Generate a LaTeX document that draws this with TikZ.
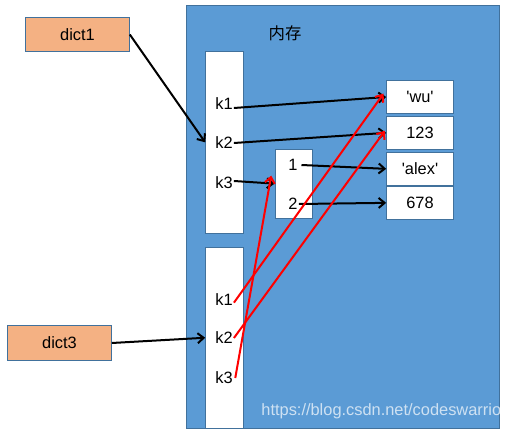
\documentclass[tikz,border=0pt]{standalone}
\usepackage{fontspec}
\setmainfont{Liberation Sans}
\newfontfamily\cjkfont{Noto Sans CJK SC}
\usetikzlibrary{arrows.meta}

\tikzset{
  membg/.style={draw={rgb, 255:red, 65; green, 113; blue, 156}, fill={rgb, 255:red, 91; green, 155; blue, 213}, line width=0.75, inner sep=0pt},
  whitebox/.style={draw={rgb, 255:red, 65; green, 113; blue, 156}, fill=white, line width=0.75, inner sep=0pt},
  dictbox/.style={draw={rgb, 255:red, 65; green, 113; blue, 156}, fill={rgb, 255:red, 244; green, 177; blue, 131}, line width=0.75, inner sep=0pt, minimum width=77.7pt, minimum height=25.8pt, font=\fontsize{12.3}{14}\selectfont},
  valbox/.style={whitebox, minimum width=50pt, minimum height=24.3pt, font=\fontsize{12.3}{14}\selectfont},
  txt/.style={inner sep=0.75pt, font=\fontsize{12.3}{14}\selectfont},
  blackarr/.style={-{Straight Barb[length=4.5pt,width=7.5pt]}, line width=1.5pt, color=black},
  redarr/.style={-{Straight Barb[length=4.5pt,width=7.5pt]}, line width=1.5pt, color={rgb, 255:red, 255; green, 0; blue, 0}}
}

\begin{document}
\begin{tikzpicture}[x=0.75pt,y=0.75pt,yscale=-1,xscale=1]
\useasboundingbox (0,0) rectangle (514,431);

%Shape: Rectangle [memory]
\node [membg, minimum width=234.4pt, minimum height=317.6pt] (mem) at (342.75,216.75) {};
% Text Node
\node [txt] (title) at (285,33) {\cjkfont 内存};

%Shape: Rectangle [dict1 block]
\node [whitebox, minimum width=28.2pt, minimum height=136pt] (blockA) at (224.5,142.35) {};
%Shape: Rectangle [dict3 block]
\node [whitebox, minimum width=28.2pt, minimum height=136pt] (blockB) at (224.5,337.75) {};
%Shape: Rectangle [inner dict]
\node [whitebox, minimum width=28pt, minimum height=52pt] (sub) at (293.7,184.3) {};

%Shape: Rectangle [values]
\node [valbox] (wu) at (420,97) {\textquotesingle wu\textquotesingle};
\node [valbox] (n123) at (420,132.85) {123};
\node [valbox] (alex) at (420,168.85) {\textquotesingle alex\textquotesingle};
\node [valbox] (n678) at (420,202.85) {678};

%Shape: Rectangle [variables]
\node [dictbox] (dictA) at (77.5,34.5) {dict1};
\node [dictbox] (dictC) at (59.5,343) {dict3};

% Text Node
\node [txt] (ka1) at (224,104) {k1};
\node [txt] (ka2) at (224,143) {k2};
\node [txt] (ka3) at (224,183) {k3};
\node [txt] (kb1) at (224,300) {k1};
\node [txt] (kb2) at (224,338) {k2};
\node [txt] (kb3) at (224,378) {k3};
\node [txt] (one) at (293,165) {1};
\node [txt] (two) at (293,204) {2};

% Text Node
\node [txt, color=white, opacity=0.7] (mark) at (384,411) {https://blog.csdn.net/codeswarrior};

%Straight Lines
\draw [blackarr] (dictA.east) -- (blockA.west);
\draw [blackarr] (dictC.east) -- (blockB.west);
\draw [blackarr] ([yshift=3pt]ka1.east) -- (wu.west);
\draw [blackarr] (ka2.east) -- (n123.west);
\draw [blackarr] ([yshift=-1.5pt]ka3.east) -- ([yshift=-0.5pt]sub.west);
\draw [blackarr] ([xshift=2pt]one.east) -- (alex.west);
\draw [blackarr] (two.east) -- (n678.west);

%Straight Lines [red]
\draw [redarr] ([yshift=2pt]kb1.east) -- ([xshift=-2pt,yshift=-2.5pt]wu.west);
\draw [redarr] (kb2.east) -- ([xshift=-1pt,yshift=-1.5pt]n123.west);
\draw [redarr] ([xshift=1pt]kb3.east) -- ([xshift=-2.5pt,yshift=-6.5pt]sub.west);

\end{tikzpicture}
\end{document}
